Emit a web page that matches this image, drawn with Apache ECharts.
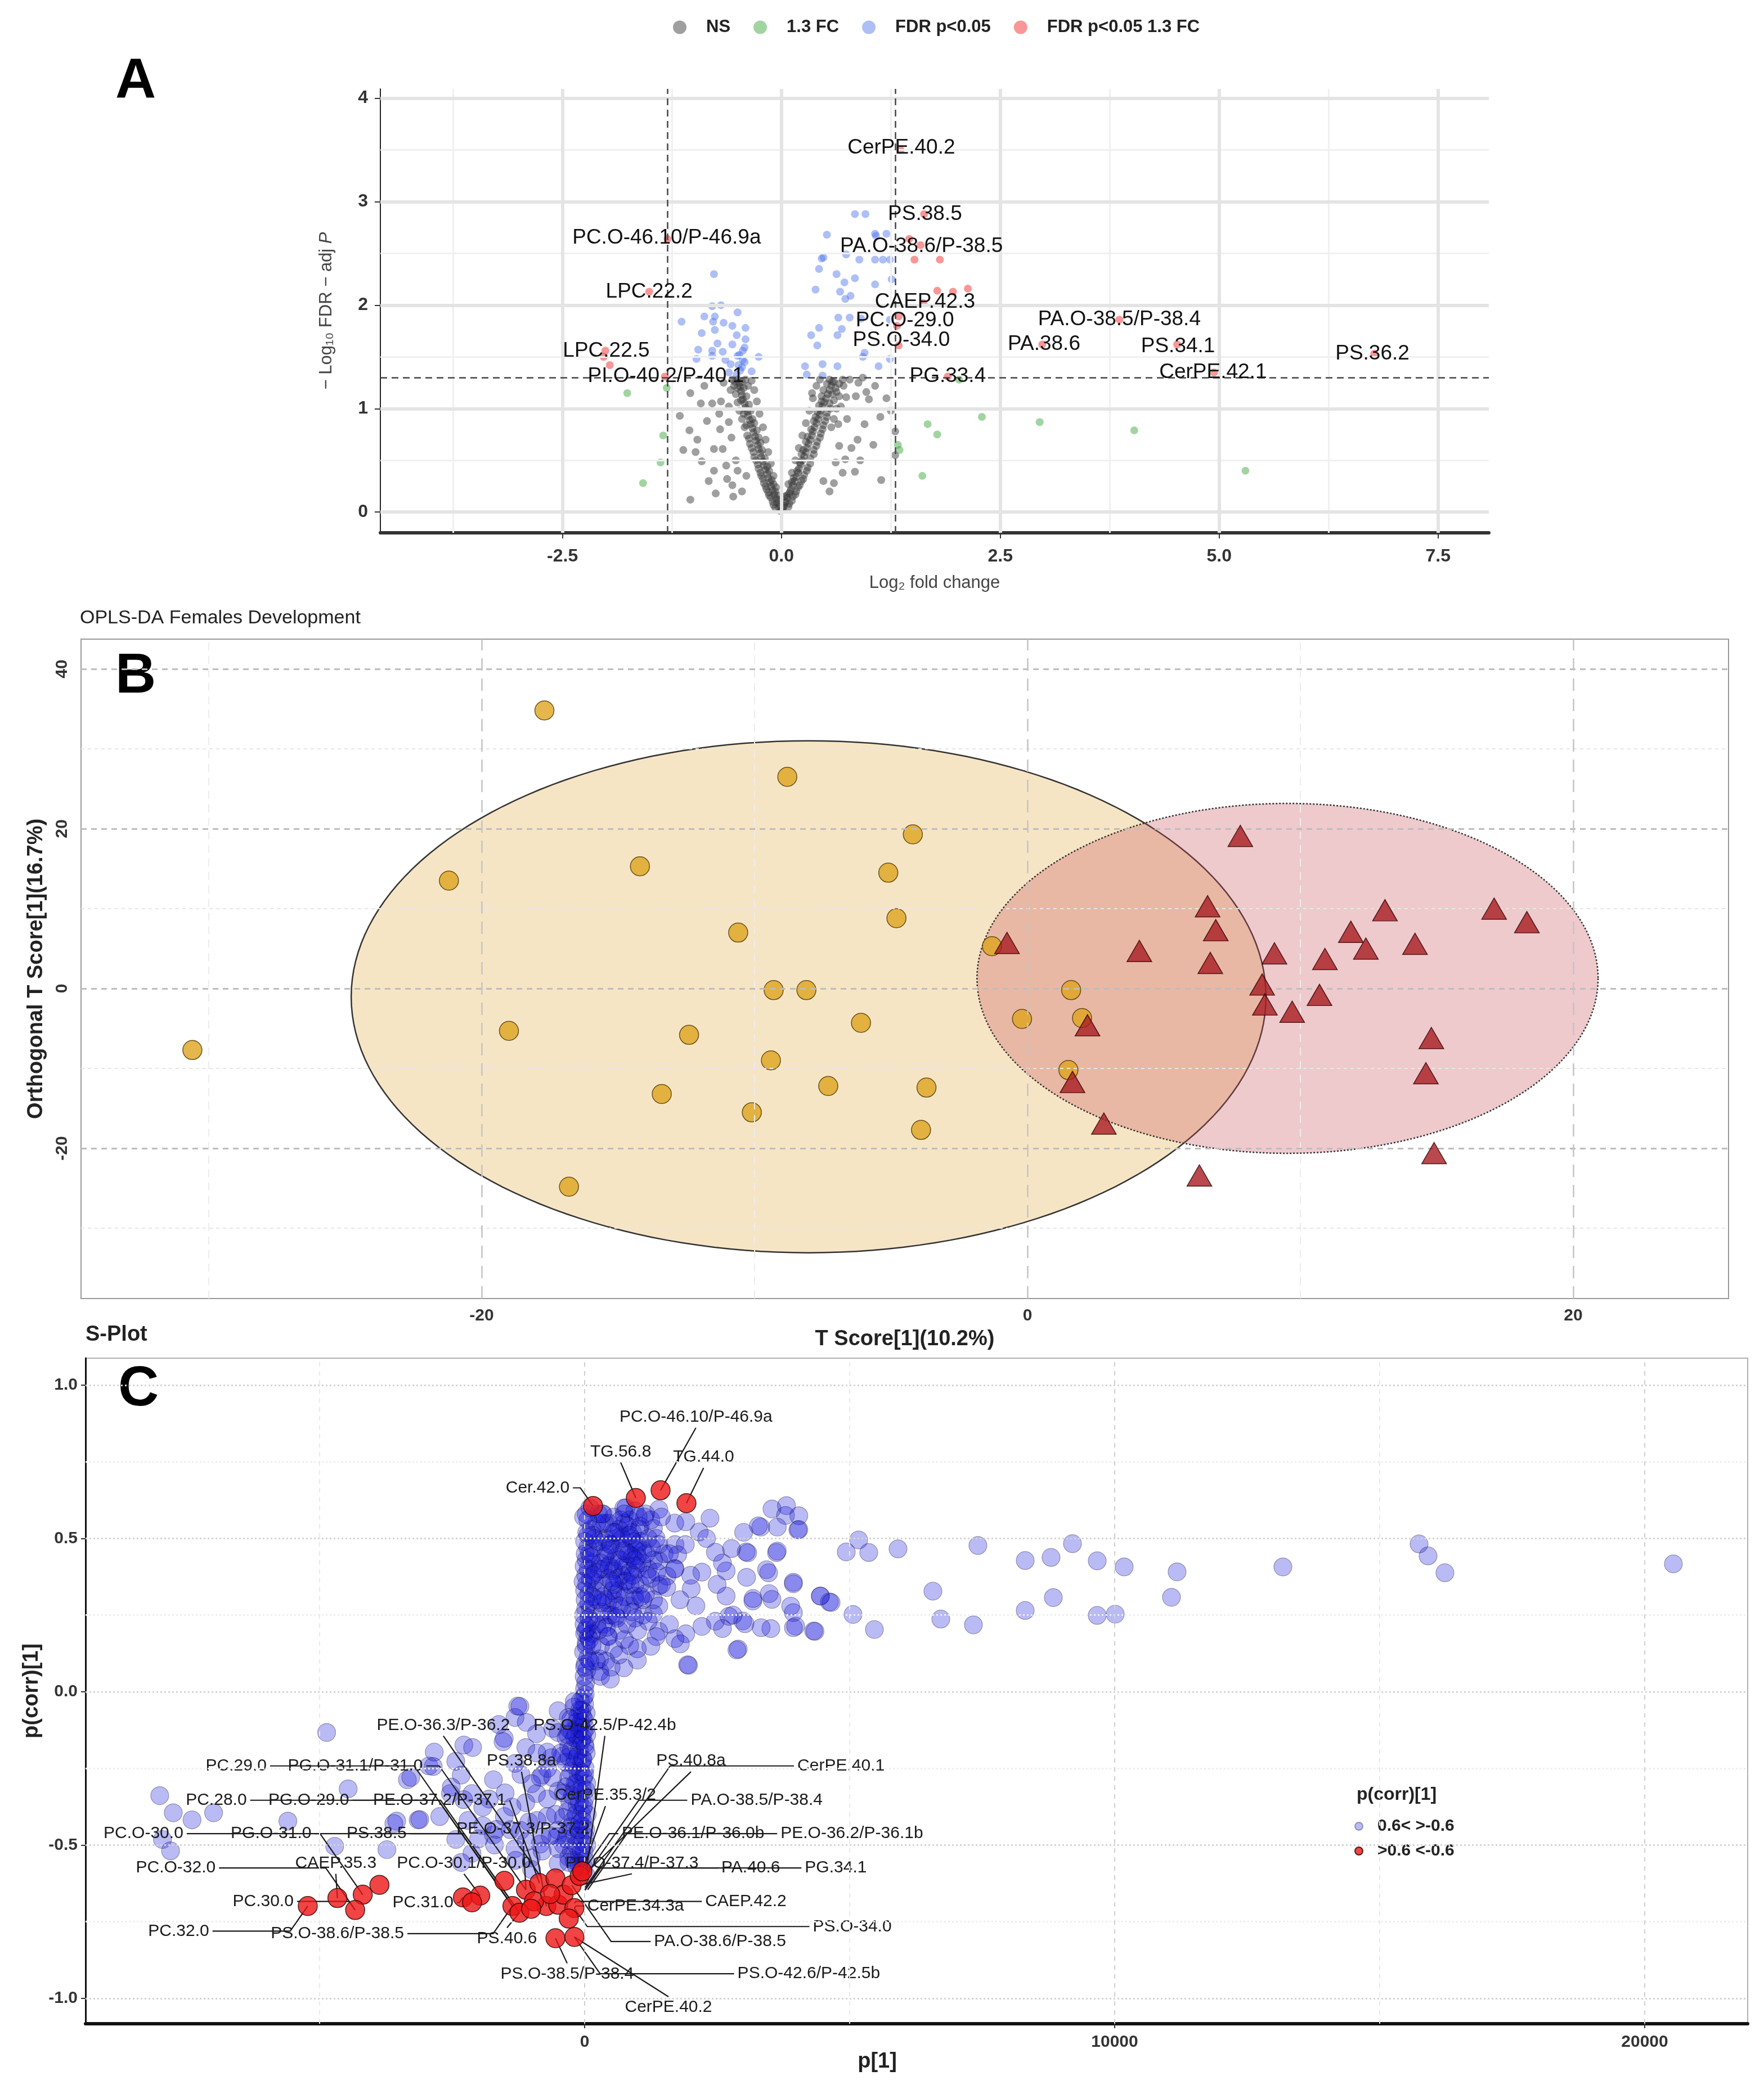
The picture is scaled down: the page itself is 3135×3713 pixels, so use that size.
<!DOCTYPE html>
<html>
<head>
<meta charset="utf-8">
<title>Volcano / OPLS-DA / S-Plot</title>
<script src="https://cdn.jsdelivr.net/npm/echarts@6/dist/echarts.min.js"></script>
<style>
  html, body { margin: 0; padding: 0; background: #fff; }
  #chart { width: 3135px; height: 3713px; }
</style>
</head>
<body>
<div id="chart"></div>
<script>
// ---------- panel A : volcano (log2 FC, -log10 FDR) ----------
const volcanoNS = [
  [-0.01,0.01],[0.01,0.02],[-0.03,0.05],[0.03,0.06],[-0.05,0.09],[0.05,0.1],[-0.06,0.13],[0.07,0.14],[-0.08,0.17],[0.09,0.18],
  [-0.1,0.21],[0.11,0.22],[-0.12,0.25],[0.13,0.26],[-0.13,0.29],[0.15,0.3],[-0.15,0.33],[0.17,0.34],[-0.16,0.37],[0.19,0.38],
  [-0.18,0.41],[0.2,0.42],[-0.2,0.45],[0.22,0.46],[-0.21,0.49],[0.24,0.5],[-0.23,0.53],[0.26,0.54],[-0.24,0.57],[0.28,0.58],
  [-0.26,0.61],[0.29,0.62],[-0.27,0.65],[0.31,0.66],[-0.29,0.69],[0.33,0.7],[-0.3,0.73],[0.35,0.74],[-0.32,0.77],[0.36,0.78],
  [-0.33,0.81],[0.38,0.82],[-0.35,0.85],[0.4,0.86],[-0.36,0.89],[0.42,0.9],[-0.38,0.93],[0.44,0.94],[-0.39,0.97],[0.45,0.98],
  [-0.41,1.01],[0.47,1.02],[-0.42,1.05],[0.49,1.06],[-0.44,1.09],[0.51,1.1],[-0.45,1.13],[0.53,1.14],[-0.46,1.17],[0.55,1.18],
  [-0.47,1.21],[0.57,1.22],[-0.48,1.25],[0.58,1.26],
  [-0.07,0.04],[0.08,0.05],[-0.1,0.1],[0.12,0.11],[-0.14,0.16],[0.16,0.17],[-0.17,0.22],[0.19,0.24],[-0.2,0.28],[0.23,0.3],
  [-0.23,0.35],[0.26,0.36],[-0.26,0.42],[0.3,0.43],[-0.29,0.5],[0.33,0.52],[-0.32,0.58],[0.37,0.6],[-0.36,0.66],[0.41,0.68],
  [-0.39,0.74],[0.45,0.76],[-0.42,0.82],[0.48,0.84],[-0.45,0.9],[0.52,0.92],[-0.48,0.98],[0.56,1.0],[-0.5,1.06],[0.6,1.08],
  [-0.52,1.14],[0.63,1.16],[-0.54,1.22],[0.66,1.24],
  [-0.03,0.12],[0.04,0.15],[-0.06,0.24],[0.08,0.27],[-0.09,0.35],[0.12,0.38],[-0.12,0.47],[0.16,0.5],[-0.15,0.58],[0.2,0.62],
  [-0.18,0.7],[0.24,0.74],[-0.21,0.82],[0.28,0.86],[-0.25,0.95],[0.32,0.98],[-0.28,1.07],[0.36,1.1],[-0.31,1.18],[0.4,1.22],
  [-0.34,1.27],[0.44,1.28],
  [-0.02,0.07],[-0.04,0.16],[-0.07,0.2],[-0.09,0.27],[-0.11,0.31],[-0.14,0.4],[-0.16,0.44],[-0.19,0.52],[-0.22,0.6],[-0.24,0.67],
  [-0.26,0.72],[-0.28,0.79],[-0.31,0.86],[-0.33,0.9],[-0.35,0.98],[-0.37,1.04],[-0.4,1.12],[-0.43,1.2],[-0.45,1.26],[-0.5,1.28],
  [-0.38,1.22],[-0.41,1.28],[-0.53,1.26],[-0.56,1.28],[-0.5,1.2],[-0.46,1.08],[-0.43,0.95],[-0.4,0.84],[-0.37,0.71],[-0.34,0.62],
  [-0.31,0.53],[-0.27,0.46],[-0.24,0.38],[-0.21,0.32],[-0.18,0.25],[-0.15,0.19],[-0.12,0.14],[-0.09,0.07],
  [0.02,0.04],[0.04,0.09],[0.06,0.16],[0.1,0.2],[0.12,0.29],[0.14,0.33],[0.18,0.4],[0.21,0.48],[0.23,0.56],[0.25,0.6],
  [0.28,0.68],[0.3,0.73],[0.34,0.8],[0.37,0.88],[0.39,0.92],[0.41,0.97],[0.43,1.03],[0.46,1.12],[0.48,1.18],[0.52,1.24],
  [0.55,1.28],[0.6,1.26],[0.62,1.2],[0.58,1.14],[0.55,1.05],[0.52,0.96],[0.5,0.88],[0.47,0.8],[0.44,0.72],[0.4,0.64],
  [0.37,0.56],[0.33,0.47],[0.29,0.4],[0.25,0.32],[0.21,0.26],[0.17,0.2],[0.13,0.15],[0.09,0.08],[0.7,1.28],[0.66,1.12],
  [0.63,1.0],[0.6,0.9],[0.57,0.82],
  [-1.04,1.15],[-1.16,0.93],[-1.05,0.79],[-0.96,0.7],[-0.91,0.49],[-0.77,0.4],[-1.04,0.12],[-0.75,0.18],[-0.56,0.26],[-0.67,0.61],
  [-0.79,1.05],[-0.69,1.07],[-0.92,1.05],[-0.6,0.87],[-0.77,0.61],[-0.63,0.45],[-0.7,0.8],[-0.85,0.88],[-0.58,1.18],[-0.66,1.25],
  [-0.88,1.22],[-0.62,0.32],[-0.52,0.5],[-0.57,0.72],[-0.83,0.3],[-0.71,0.95],[-0.55,0.15],[-0.45,0.2],[-0.4,0.35],[-0.5,0.4],
  [-0.98,0.58],[-1.12,0.6],[-0.6,1.02],
  [0.35,1.15],[0.46,1.07],[0.71,1.22],[0.74,1.11],[0.85,1.12],[0.93,1.3],[0.97,1.16],[1.07,1.22],[1.0,1.09],[1.25,0.98],
  [1.13,0.92],[0.66,0.64],[0.87,0.7],[0.84,0.39],[1.14,0.31],[0.73,0.51],[0.62,0.48],[1.3,0.78],[0.75,0.9],[0.8,0.62],
  [0.7,0.38],[0.9,0.5],[0.65,0.85],[0.6,0.28],[0.55,0.2],[0.48,0.3],[0.95,0.85],[1.05,0.65],[0.78,1.28],[0.88,1.25],
  [1.2,1.1],[0.68,1.02],[1.3,0.55]
];
const volcanoFC = [
  [-1.76,1.15],[-1.31,1.2],[-1.35,0.74],[-1.38,0.48],[-1.58,0.28],[1.35,0.6],[1.33,0.65],[1.67,0.85],
  [1.78,0.75],[1.61,0.35],[2.29,0.92],[2.95,0.87],[4.03,0.79],[5.3,0.4],[2.03,1.28]
];
const volcanoFDR = [
  [0.84,2.88],[0.96,2.88],[0.52,2.68],[1.07,2.69],[1.08,2.67],[1.2,2.69],[0.46,2.45],[0.48,2.46],[0.74,2.49],[0.89,2.44],
  [1.07,2.44],[1.16,2.44],[1.24,2.44],[0.43,2.35],[0.63,2.3],[0.84,2.26],[0.72,2.22],[1.26,2.25],[1.07,2.2],[0.39,2.15],
  [0.67,2.13],[0.79,2.09],[0.73,2.06],[0.65,1.88],[0.78,1.88],[0.91,1.87],[1.24,1.86],[0.43,1.78],[0.69,1.77],[0.34,1.71],
  [0.64,1.71],[0.41,1.61],[0.95,1.54],[0.93,1.5],[1.24,1.48],[0.27,1.41],[0.47,1.43],[0.64,1.41],[1.11,1.41],[0.29,1.33],
  [0.47,1.32],
  [-0.77,2.3],[-1.14,1.84],[-0.79,1.99],[-0.69,2.0],[-0.88,1.89],[-0.76,1.89],[-0.5,1.93],[-0.78,1.84],[-0.66,1.83],[-0.56,1.8],
  [-0.41,1.78],[-0.91,1.73],[-0.76,1.76],[-0.51,1.71],[-0.41,1.67],[-0.73,1.63],[-0.56,1.62],[-0.95,1.57],[-0.79,1.56],[-0.67,1.55],
  [-0.42,1.59],[-0.26,1.5],[-0.79,1.51],[-0.5,1.51],[-0.97,1.48],[-0.64,1.47],[-0.44,1.47],[-0.58,1.43],[-0.49,1.42],[-0.47,1.37],
  [-0.6,1.35],[-0.34,1.36],[-0.51,1.33],[-0.45,1.4],[-0.42,1.45],[-0.48,1.52],[-0.44,1.56]
];
const volcanoBoth = [
  [1.36,3.5],[1.63,2.88],[1.46,2.64],[1.59,2.58],[1.52,2.44],[1.81,2.44],[1.78,2.14],[1.96,2.13],[2.13,2.16],[1.62,2.02],
  [1.34,1.89],[1.32,1.8],[1.34,1.61],[3.86,1.86],[2.98,1.62],[1.9,1.31],[4.52,1.62],[4.94,1.35],[6.77,1.53],
  [-1.3,2.64],[-1.51,2.13],[-2.01,1.56],[-2.03,1.5],[-1.96,1.42],[-1.33,1.31]
];
const volcanoLabels = [
  ['CerPE.40.2', 1.37, 3.52], ['PS.38.5', 1.64, 2.88], ['PC.O-46.10/P-46.9a', -1.31, 2.65],
  ['PA.O-38.6/P-38.5', 1.6, 2.57], ['LPC.22.2', -1.51, 2.13], ['CAEP.42.3', 1.64, 2.03],
  ['PC.O-29.0', 1.41, 1.85], ['PA.O-38.5/P-38.4', 3.86, 1.86], ['PS.O-34.0', 1.37, 1.66],
  ['PA.38.6', 3.0, 1.62], ['PS.34.1', 4.53, 1.6], ['LPC.22.5', -2.0, 1.56], ['PS.36.2', 6.75, 1.53],
  ['CerPE.42.1', 4.93, 1.35], ['PI.O-40.2/P-40.1', -1.32, 1.31], ['PG.33.4', 1.9, 1.31]
];
const volcanoXTicks = [-2.5, 0, 2.5, 5, 7.5];
const volcanoXMinor = [-3.75, -1.25, 1.25, 3.75, 6.25];
const volcanoYTicks = [0, 1, 2, 3, 4];
const volcanoYMinor = [0.5, 1.5, 2.5, 3.5];
const fcCut = [-1.3, 1.3];
const pCut = [1.3];

// ---------- panel B : OPLS-DA scores ----------
const scoresDev = [
  [-30.6,-7.7],[-17.7,34.8],[-21.2,13.5],[-19.0,-5.3],[-16.8,-24.8],[-14.2,15.3],[-8.8,26.5],[-10.6,7.0],[-9.3,-0.2],[-8.1,-0.2],
  [-12.4,-5.8],[-13.4,-13.2],[-9.4,-9.0],[-10.1,-15.5],[-7.3,-12.2],[-6.1,-4.3],[-4.2,19.3],[-5.1,14.5],[-4.8,8.8],[-3.7,-12.4],
  [-3.9,-17.7],[-1.3,5.3],[1.6,-0.2],[-0.2,-3.8],[2.0,-3.7],[1.5,-10.2]
];
const scoresCtrl = [
  [-0.75,5.7],[7.8,19.1],[6.6,10.3],[6.9,7.3],[6.7,3.2],[4.1,4.7],[9.05,4.4],[8.6,0.5],[8.7,-2.0],[9.7,-2.9],
  [10.7,-0.8],[10.9,3.7],[11.85,7.1],[12.4,5.0],[13.1,9.8],[14.2,5.6],[17.1,10.0],[18.3,8.3],[14.8,-6.2],[14.6,-10.6],
  [14.9,-20.6],[6.3,-23.4],[2.2,-4.6],[1.65,-11.7],[2.8,-16.9]
];
// [centre x, centre y, semi-axis x, semi-axis y]
const ellipseDev = [-8.02, -1.03, 16.76, 32.04];
const ellipseCtrl = [9.53, 1.27, 11.38, 21.9];
const scoreXTicks = [-20, 0, 20];
const scoreXMinor = [-30, -10, 10];
const scoreYTicks = [-20, 0, 20, 40];
const scoreYMinor = [-30, -10, 10, 30];

// ---------- panel C : S-plot (p[1], p(corr)[1]) ----------
const pcorrBlue = [
  // right of zero
  [20541,0.417],[13174,0.407],[15743,0.482],[15913,0.443],[16231,0.388],[11178,0.391],[11072,0.308],[9204,0.483],[9671,0.427],
  [10180,0.407],[8800,0.438],[8312,0.428],[7420,0.477],[5913,0.466],[5170,0.495],[5361,0.454],[4936,0.456],[8843,0.307],
  [9671,0.249],[10011,0.253],[8312,0.265],[7335,0.218],[6720,0.237],[6571,0.328],[5467,0.203],[5064,0.252],[4618,0.293],
  [4448,0.312],[4321,0.198],[3981,0.214],[3938,0.258],[3535,0.596],[3790,0.575],[4023,0.528],[3323,0.537],[3620,0.454],
  [3047,0.456],[2898,0.139],[1943,0.088],[3938,0.352],[3471,0.388],[3535,0.301],[3174,0.296],[2983,0.231],[2601,0.206],
  [3514,0.206],[3808,0.607],[4041,0.574],[3279,0.541],[3635,0.537],[4041,0.529],[2365,0.566],[2162,0.521],[2772,0.467],
  [3076,0.453],[3635,0.459],[2467,0.455],[1756,0.447],[1705,0.402],[2213,0.39],[2670,0.394],[3056,0.373],[3432,0.398],
  [3939,0.357],[1553,0.377],[2011,0.336],[2670,0.312],[3178,0.304],[3483,0.32],[3888,0.279],[4447,0.312],[4650,0.291],
  [3026,0.222],[3330,0.209],[3939,0.209],[4346,0.197],[2467,0.23],[2721,0.246],[2213,0.213],[1909,0.189],[1705,0.173],
  [1807,0.156],[2873,0.136],[1960,0.086],[1249,0.148],[995,0.103],[740,0.078],[486,0.041],[995,0.14],[1400,0.197],
  [1298,0.254],[944,0.312],[1400,0.345],[1400,0.427],[1705,0.48],[1298,0.533],[1909,0.554],[1400,0.595],[740,0.599],
  [385,0.549],[690,0.508],[995,0.443],[537,0.394],[791,0.361],[588,0.246],[435,0.181],[283,0.107],[283,0.066],
  [300,0.15],[350,0.35],[400,0.5],[320,0.55],[450,0.25],[500,0.42],[550,0.3],[600,0.5],[650,0.2],[700,0.38],[750,0.55],
  [800,0.45],[850,0.28],[900,0.52],[950,0.35],[1000,0.48],[1100,0.25],[1150,0.58],[1200,0.4],[1300,0.3],[1350,0.5],
  [1450,0.35],[1500,0.45],[1600,0.22],[1700,0.55],[1800,0.3],[1900,0.48],[2000,0.38],[2100,0.28],[2300,0.5],[2500,0.35],
  [2600,0.42],[2800,0.25],[3000,0.52],
  [350,0.58],[450,0.55],[550,0.57],[650,0.53],[750,0.58],[850,0.56],[950,0.59],[1050,0.54],[1250,0.56],[1450,0.57],
  [400,0.45],[500,0.48],[600,0.44],[700,0.47],[800,0.41],[900,0.44],[1000,0.4],[1100,0.46],[1200,0.5],[1300,0.43],
  [1400,0.48],[1600,0.45],[350,0.4],[450,0.37],[550,0.4],[650,0.33],[750,0.36],[850,0.39],[950,0.3],[1050,0.35],
  [1150,0.32],[1250,0.37],[1400,0.28],[1550,0.34],[1700,0.4],[400,0.3],[500,0.25],[600,0.32],[700,0.27],[800,0.22],
  [900,0.26],[1000,0.2],[1100,0.3],[1200,0.23],[1350,0.18],[350,0.22],[450,0.18],[550,0.14],[650,0.12],[750,0.17],
  [850,0.15],[950,0.24],[400,0.1],[500,0.08],[300,0.05],
  [30,0.16],[130,0.19],[230,0.22],[330,0.26],[430,0.29],[530,0.33],[630,0.37],[730,0.41],[830,0.45],[930,0.49],
  [1030,0.53],[1130,0.57],[80,0.32],[180,0.36],[280,0.4],[380,0.44],[480,0.48],[580,0.52],[680,0.56],[780,0.6],
  [880,0.5],[980,0.46],[1080,0.42],[1180,0.38],[60,0.47],[160,0.51],[260,0.58],[360,0.49],[460,0.41],[560,0.35],
  [660,0.43],[760,0.31],[860,0.35],[960,0.41],[1060,0.31],[1160,0.45],[110,0.27],[210,0.33],[310,0.29],[410,0.21],
  [510,0.36],[610,0.24],[710,0.5],[810,0.54],[910,0.38],[1010,0.57],[1260,0.47],[1360,0.39],[20,0.38],[70,0.18],
  [150,0.42],[250,0.49],[350,0.31],[450,0.46],[550,0.52],[650,0.28],[750,0.46],[850,0.51],[950,0.43],[1050,0.49],
  // stem, upper half
  [0,0.01],[20,0.03],[-10,0.05],[40,0.07],[10,0.09],[60,0.11],[-20,0.13],[30,0.15],[90,0.17],[0,0.19],
  [50,0.21],[120,0.23],[-20,0.25],[20,0.27],[80,0.29],[150,0.31],[0,0.33],[40,0.35],[110,0.37],[200,0.39],
  [-10,0.41],[30,0.43],[90,0.45],[170,0.47],[0,0.49],[60,0.51],[130,0.53],[230,0.55],[-20,0.57],[30,0.58],
  [100,0.6],[10,0.45],[20,0.2],[70,0.4],[140,0.15],[240,0.3],[180,0.5],[300,0.42],[260,0.2],[330,0.58],[220,0.1],
  [10,0.3],[60,0.56],[-30,0.36],[120,0.44],[40,0.52],[0,0.08],[80,0.24],[160,0.38],[100,0.1],[-10,0.22],
  // stem, lower half
  [30,-0.6],[-60,-0.58],[-150,-0.57],[10,-0.55],[-100,-0.53],[-250,-0.52],[40,-0.5],[-50,-0.49],[-180,-0.47],[-320,-0.46],
  [20,-0.45],[-90,-0.43],[-220,-0.42],[-400,-0.41],[50,-0.4],[-30,-0.38],[-140,-0.37],[-280,-0.36],[0,-0.35],[-70,-0.33],
  [-200,-0.32],[-350,-0.31],[40,-0.3],[-20,-0.28],[-120,-0.27],[-260,-0.26],[10,-0.25],[-60,-0.23],[-180,-0.22],[-420,-0.21],
  [30,-0.2],[-100,-0.19],[-300,-0.18],[0,-0.17],[-40,-0.15],[-160,-0.14],[-240,-0.13],[20,-0.12],[-80,-0.11],[-10,-0.09],
  [-130,-0.08],[30,-0.07],[-50,-0.06],[-200,-0.05],[0,-0.04],[-20,-0.02],[10,-0.01],[-80,-0.03],[-120,-0.16],[-30,-0.44],
  [-200,-0.55],[-400,-0.5],[-10,-0.52],[-60,-0.4],[20,-0.32],[-40,-0.22],[40,-0.14],[-90,-0.47],[-150,-0.3],[-70,-0.1],
  [-20,-0.57],[-110,-0.56],[-300,-0.54],[-60,-0.52],[-160,-0.5],[-350,-0.48],[0,-0.47],[-120,-0.45],[-260,-0.44],[-40,-0.42],
  [-160,-0.4],[-320,-0.39],[-10,-0.37],[-100,-0.36],[-230,-0.34],[-400,-0.33],[-50,-0.31],[-180,-0.3],[-300,-0.28],[0,-0.27],
  [-80,-0.26],[-200,-0.24],[-350,-0.23],[-30,-0.22],[-130,-0.21],[-250,-0.19],[10,-0.18],[-60,-0.16],[-190,-0.15],[-320,-0.14],
  [-20,-0.13],[-100,-0.12],[-150,-0.1],[-260,-0.09],[-40,-0.08],[-90,-0.06],
  // left of zero
  [-4867,-0.133],[-8016,-0.339],[-7761,-0.395],[-7407,-0.418],[-7000,-0.395],[-7965,-0.482],[-7812,-0.519],[-5599,-0.422],
  [-4715,-0.504],[-3730,-0.515],[-4461,-0.317],[-3546,-0.422],[-3141,-0.418],[-3344,-0.287],[-2937,-0.242],[-2430,-0.227],
  [-2837,-0.197],[-2278,-0.174],[-2125,-0.332],[-1922,-0.377],[-1516,-0.407],[-1720,-0.467],[-2125,-0.527],[-2328,-0.557],
  [-1313,-0.512],[-1008,-0.542],[-1313,-0.084],[-1262,-0.047],[-907,-0.137],[-1109,-0.182],[-1313,-0.234],[-1720,-0.287],
  [-704,-0.197],[-805,-0.272],[-500,-0.324],[-907,-0.332],[-1109,-0.362],[-704,-0.407],[-500,-0.452],[-805,-0.474],
  [-500,-0.512],[-297,-0.557],[-297,-0.212],[-297,-0.122],[-500,-0.062],[-195,-0.032],[-1516,-0.152],[-1618,-0.107],
  [-2328,-0.272],[-2532,-0.332],[-1922,-0.437],[-1211,-0.452],[-2734,-0.407],[-2430,-0.482],[-2516,-0.311],[-2282,-0.352],
  [-1369,-0.376],[-839,-0.279],[-626,-0.215],[-499,-0.133],[-308,-0.084],[-520,-0.473],[-839,-0.497],[-1051,-0.425],
  [-1667,-0.449],[-3280,-0.279],[-3599,-0.43],[-3110,-0.417],[-2856,-0.244],[-2113,-0.182],[-1539,-0.163],[-1221,-0.048],
  [-350,-0.15],[-450,-0.2],[-600,-0.28],[-700,-0.35],[-550,-0.4],[-900,-0.42],[-650,-0.47],[-1100,-0.49],
  [-800,-0.52],[-1300,-0.55],[-500,-0.56],[-1000,-0.58],[-700,-0.25],[-1000,-0.3],[-1200,-0.27],[-1500,-0.33],[-1800,-0.35],
  [-1400,-0.45],[-1700,-0.5],[-2000,-0.48],[-2200,-0.42],[-900,-0.2],[-600,-0.12],[-1100,-0.1]
];
const pcorrRed = [
  [159,0.606],[966,0.632],[1433,0.657],[1921,0.615],
  [-5223,-0.699],[-4664,-0.673],[-4186,-0.662],[-4329,-0.712],[-3871,-0.63],[-2296,-0.671],[-1970,-0.665],[-2124,-0.687],
  [-1514,-0.617],[-1362,-0.699],[-1230,-0.721],[-1107,-0.646],[-854,-0.624],[-722,-0.699],[-550,-0.609],[-498,-0.695],
  [-397,-0.662],[-244,-0.631],[-193,-0.706],[-93,-0.601],[-43,-0.586],[-550,-0.804],[-193,-0.8],[-955,-0.684],
  [-1008,-0.708],[-300,-0.74],[-650,-0.66]
];
// [text, label x, label y, side, point x, point y]
const pcorrLabels = [
  ['PC.O-46.10/P-46.9a', 2100, 0.861, 't', 1433, 0.657], ['TG.56.8', 681, 0.748, 't', 966, 0.632],
  ['TG.44.0', 2245, 0.73, 't', 1921, 0.615], ['Cer.42.0', -221, 0.665, 'r', 159, 0.606],
  ['PE.O-36.3/P-36.2', -2665, -0.144, 't', -807, -0.609], ['PS.O-42.5/P-42.4b', 382, -0.144, 't', 7, -0.617],
  ['PC.29.0', -5934, -0.242, 'r', -1364, -0.699], ['PG.O-31.1/P-31.0', -2988, -0.242, 'r', -1107, -0.646],
  ['PS.38.8a', -1191, -0.261, 't', -722, -0.699], ['PS.40.8a', 2006, -0.261, 't', 58, -0.586],
  ['CerPE.40.1', 3950, -0.242, 'l', 7, -0.639], ['PC.28.0', -6310, -0.354, 'r', -1230, -0.721],
  ['PG.O-29.0', -4380, -0.354, 'r', -1362, -0.699], ['PE.O-37.2/P-37.1', -1414, -0.354, 'r', -854, -0.624],
  ['CerPE.35.3/2', 393, -0.373, 't', -43, -0.586], ['PA.O-38.5/P-38.4', 1937, -0.354, 'l', 7, -0.604],
  ['PC.O-30.0', -7507, -0.463, 'r', -1362, -0.699], ['PG.O-31.0', -5090, -0.463, 'r', -4186, -0.662],
  ['PS.38.5', -3293, -0.463, 'r', -1230, -0.721], ['PE.O-37.3/P-37.2', -1160, -0.482, 't', -1107, -0.646],
  ['PE.O-36.1/P-36.0b', 637, -0.463, 'l', -93, -0.601], ['PE.O-36.2/P-36.1b', 3633, -0.463, 'l', 58, -0.646],
  ['PC.O-32.0', -6898, -0.575, 'r', -4329, -0.712], ['CAEP.35.3', -4694, -0.594, 't', -4664, -0.673],
  ['PC.O-30.1/P-30.0', -2277, -0.594, 't', -1970, -0.665], ['PE.O-37.4/P-37.3', 893, -0.594, 't', -80, -0.63],
  ['PA.40.6', 2516, -0.575, 'l', 7, -0.646], ['PG.34.1', 4091, -0.575, 'l', 7, -0.648],
  ['PC.30.0', -5426, -0.684, 'r', -4329, -0.712], ['PC.31.0', -2410, -0.688, 'r', -2296, -0.671],
  ['CerPE.34.3a', -13, -0.699, 'l', -193, -0.706], ['CAEP.42.2', 2211, -0.684, 'l', -193, -0.69],
  ['PC.32.0', -7020, -0.781, 'r', -5223, -0.699], ['PS.O-38.6/P-38.5', -3344, -0.789, 'r', -1362, -0.699],
  ['PS.40.6', -1465, -0.77, 'b', -1230, -0.721], ['PS.O-34.0', 4242, -0.766, 'l', -193, -0.706],
  ['PA.O-38.6/P-38.5', 1246, -0.815, 'l', -244, -0.631], ['PS.O-38.5/P-38.4', -329, -0.886, 'b', -550, -0.804],
  ['PS.O-42.6/P-42.5b', 2820, -0.92, 'l', -193, -0.8], ['CerPE.40.2', 1582, -0.995, 'b', -193, -0.8]
];
const pXTicks = [0, 10000, 20000];
const pXMinor = [-5000, 5000, 15000];
const pcorrYTicks = [-1, -0.5, 0, 0.5, 1];
const pcorrYMinor = [-0.75, -0.25, 0.25, 0.75];

const FONT = '"Liberation Sans", Arial, sans-serif';

function lines(axis, values, style) {
  return values.map(v => ({ [axis]: v, lineStyle: style }));
}

function guideSeries(gi, z, data) {
  return {
    type: 'scatter', xAxisIndex: gi, yAxisIndex: gi, data: [], z: z, silent: true,
    markLine: { silent: true, symbol: ['none', 'none'], label: { show: false }, animation: false, data: data }
  };
}

function ellipseSeries(e, fill, stroke, dash) {
  return {
    type: 'custom', xAxisIndex: 1, yAxisIndex: 1, z: 2, silent: true,
    data: [e],
    renderItem(params, api) {
      const c = api.coord([api.value(0), api.value(1)]);
      const edge = api.coord([api.value(0) + api.value(2), api.value(1) + api.value(3)]);
      const rx = edge[0] - c[0], ry = c[1] - edge[1];
      const pts = [];
      for (let i = 0; i < 180; i++) {
        const t = i / 180 * Math.PI * 2;
        pts.push([c[0] + rx * Math.cos(t), c[1] + ry * Math.sin(t)]);
      }
      return { type: 'polygon', shape: { points: pts },
        style: { fill: fill, stroke: stroke, lineWidth: 2.5, lineDash: dash } };
    }
  };
}

function axisText(size, bold) {
  return { fontSize: size, fontWeight: bold ? 'bold' : 'normal', color: '#333', fontFamily: FONT };
}

const chart = echarts.init(document.getElementById('chart'));

const option = {
  backgroundColor: '#fff',
  animation: false,
  textStyle: { fontFamily: FONT },
  grid: [
    { left: 676, top: 158, width: 1970, height: 789 },
    { left: 144, top: 1136, width: 2928, height: 1172, show: true, borderColor: '#9a9a9a', borderWidth: 2 },
    { left: 152, top: 2414, width: 2954, height: 1183, show: true, borderColor: '#b0b0b0', borderWidth: 2 }
  ],
  xAxis: [
    {
      gridIndex: 0, type: 'value', min: -4.58, max: 8.08,
      splitLine: { show: false },
      axisLine: { onZero: false, lineStyle: { color: '#333', width: 6 } },
      axisTick: { customValues: volcanoXTicks, length: 10, lineStyle: { color: '#333', width: 2 } },
      axisLabel: Object.assign({ customValues: volcanoXTicks, margin: 26, formatter: v => v.toFixed(1) }, axisText(32, true)),
      name: 'Log₂ fold change', nameLocation: 'middle', nameGap: 74,
      nameTextStyle: { fontSize: 31, color: '#444', fontFamily: FONT }
    },
    {
      gridIndex: 1, type: 'value', min: -34.68, max: 25.69,
      splitLine: { show: false }, axisLine: { show: false, onZero: false }, axisTick: { show: false },
      axisLabel: Object.assign({ customValues: scoreXTicks, margin: 16 }, axisText(30, true)),
      name: 'T Score[1](10.2%)', nameLocation: 'middle', nameGap: 54,
      nameTextStyle: { fontSize: 38, fontWeight: 'bold', color: '#222', fontFamily: FONT }
    },
    {
      gridIndex: 2, type: 'value', min: -9416, max: 21943,
      splitLine: { show: false },
      axisLine: { onZero: false, lineStyle: { color: '#111', width: 6 } },
      axisTick: { customValues: pXTicks, length: 8, lineStyle: { color: '#333', width: 2 } },
      axisLabel: Object.assign({ customValues: pXTicks, margin: 18, formatter: v => String(v) }, axisText(30, true)),
      name: 'p[1]', nameLocation: 'middle', nameGap: 46,
      nameTextStyle: { fontSize: 38, fontWeight: 'bold', color: '#222', fontFamily: FONT, padding: [0, 140, 0, 0] }
    }
  ],
  yAxis: [
    {
      gridIndex: 0, type: 'value', min: -0.2, max: 4.09,
      splitLine: { show: false },
      axisLine: { show: true, onZero: false, lineStyle: { color: '#222', width: 2 } },
      axisTick: { show: true, customValues: volcanoYTicks, length: 10, lineStyle: { color: '#333', width: 2 } },
      axisLabel: Object.assign({ customValues: volcanoYTicks, margin: 22 }, axisText(32, true)),
      name: '− Log₁₀ FDR − adj {i|P}', nameLocation: 'middle', nameGap: 80,
      nameTextStyle: { fontSize: 31, color: '#444', fontFamily: FONT,
        rich: { i: { fontSize: 31, fontStyle: 'italic', color: '#444', fontFamily: FONT } } }
    },
    {
      gridIndex: 1, type: 'value', min: -38.8, max: 43.73,
      splitLine: { show: false }, axisLine: { show: false, onZero: false }, axisTick: { show: false },
      axisLabel: Object.assign({ customValues: scoreYTicks, rotate: 90, margin: 18 }, axisText(30, true)),
      name: 'Orthogonal T Score[1](16.7%)', nameLocation: 'middle', nameGap: 60,
      nameTextStyle: { fontSize: 38, fontWeight: 'bold', color: '#222', fontFamily: FONT }
    },
    {
      gridIndex: 2, type: 'value', min: -1.083, max: 1.088,
      splitLine: { show: false },
      axisLine: { show: true, onZero: false, lineStyle: { color: '#111', width: 3 } },
      axisTick: { show: true, customValues: pcorrYTicks, length: 8, lineStyle: { color: '#333', width: 2 } },
      axisLabel: Object.assign({ customValues: pcorrYTicks, margin: 14, formatter: v => v.toFixed(1) }, axisText(30, true)),
      name: 'p(corr)[1]', nameLocation: 'middle', nameGap: 74,
      nameTextStyle: { fontSize: 38, fontWeight: 'bold', color: '#222', fontFamily: FONT }
    }
  ],
  legend: [
    {
      data: ['NS', '1.3 FC', 'FDR p<0.05', 'FDR p<0.05 1.3 FC'],
      left: 1191, top: 28, icon: 'circle', itemWidth: 84, itemHeight: 24, itemGap: 41,
      textStyle: { fontSize: 31, fontWeight: 'bold', color: '#222', fontFamily: FONT }
    },
    {
      data: ['0.6< >-0.6', '>0.6 <-0.6'],
      orient: 'vertical', left: 2402, top: 3226, icon: 'circle', itemWidth: 56, itemHeight: 14, itemGap: 14,
      textStyle: { fontSize: 30, fontWeight: 'bold', color: '#222', fontFamily: FONT }
    }
  ],
  graphic: [
    { type: 'text', x: 241, y: 146, style: { text: 'A', align: 'center', verticalAlign: 'middle', font: 'bold 100px ' + FONT, fill: '#000' } },
    { type: 'text', x: 241, y: 1203, style: { text: 'B', align: 'center', verticalAlign: 'middle', font: 'bold 100px ' + FONT, fill: '#000' } },
    { type: 'text', x: 246, y: 2470, style: { text: 'C', align: 'center', verticalAlign: 'middle', font: 'bold 100px ' + FONT, fill: '#000' } },
    { type: 'text', x: 142, y: 1099, style: { text: 'OPLS-DA Females Development', verticalAlign: 'middle', font: '34px ' + FONT, fill: '#222' } },
    { type: 'text', x: 152, y: 2373, style: { text: 'S-Plot', verticalAlign: 'middle', font: 'bold 38px ' + FONT, fill: '#222' } },
    { type: 'text', x: 2411, y: 3190, style: { text: 'p(corr)[1]', verticalAlign: 'middle', font: 'bold 32px ' + FONT, fill: '#222' } }
  ],
  series: [
    // ---- A : grid ----
    guideSeries(0, 1, [].concat(
      lines('yAxis', volcanoYMinor, { color: '#f0f0f0', width: 3, type: 'solid' }),
      lines('xAxis', volcanoXMinor, { color: '#f0f0f0', width: 3, type: 'solid' }),
      lines('yAxis', volcanoYTicks, { color: '#e4e4e4', width: 6, type: 'solid' }),
      lines('xAxis', volcanoXTicks, { color: '#e4e4e4', width: 6, type: 'solid' })
    )),
    {
      name: 'NS', type: 'scatter', xAxisIndex: 0, yAxisIndex: 0, z: 3, symbolSize: 14,
      itemStyle: { color: 'rgba(55,55,55,0.6)' }, data: volcanoNS
    },
    {
      name: '1.3 FC', type: 'scatter', xAxisIndex: 0, yAxisIndex: 0, z: 3, symbolSize: 14,
      itemStyle: { color: 'rgba(60,165,60,0.6)' }, data: volcanoFC
    },
    {
      name: 'FDR p<0.05', type: 'scatter', xAxisIndex: 0, yAxisIndex: 0, z: 3, symbolSize: 14,
      itemStyle: { color: 'rgba(70,110,235,0.55)' }, data: volcanoFDR
    },
    {
      name: 'FDR p<0.05 1.3 FC', type: 'scatter', xAxisIndex: 0, yAxisIndex: 0, z: 4, symbolSize: 14,
      itemStyle: { color: 'rgba(240,70,70,0.7)' }, data: volcanoBoth
    },
    guideSeries(0, 5, [].concat(
      lines('xAxis', fcCut, { color: '#444', width: 2.5, type: [12, 8] }),
      lines('yAxis', pCut, { color: '#444', width: 2.5, type: [12, 8] })
    )),
    {
      type: 'custom', xAxisIndex: 0, yAxisIndex: 0, z: 6, silent: true,
      data: volcanoLabels.map(l => [l[1], l[2]]),
      renderItem(params, api) {
        const c = api.coord([api.value(0), api.value(1)]);
        return { type: 'text', x: c[0], y: c[1],
          style: { text: volcanoLabels[params.dataIndex][0], align: 'center', verticalAlign: 'middle',
            font: '37px ' + FONT, fill: '#111' } };
      }
    },

    // ---- B : grid, ellipses, scores ----
    guideSeries(1, 1, [].concat(
      lines('yAxis', scoreYMinor, { color: '#e6e6e6', width: 2, type: [6, 6] }),
      lines('xAxis', scoreXMinor, { color: '#ececec', width: 2, type: [14, 10] }),
      lines('yAxis', scoreYTicks, { color: '#bdbdbd', width: 3, type: [10, 8] }),
      lines('xAxis', scoreXTicks, { color: '#c4c4c4', width: 2.5, type: [22, 14] })
    )),
    ellipseSeries(ellipseDev, 'rgba(232,190,110,0.4)', '#333', null),
    ellipseSeries(ellipseCtrl, 'rgba(200,80,90,0.3)', '#333', [3, 3]),
    {
      name: 'Development', type: 'scatter', xAxisIndex: 1, yAxisIndex: 1, z: 4, symbol: 'circle', symbolSize: 34,
      itemStyle: { color: '#DFA41E', borderColor: '#4a3500', borderWidth: 1.5 }, data: scoresDev
    },
    {
      name: 'Control', type: 'scatter', xAxisIndex: 1, yAxisIndex: 1, z: 5, symbol: 'triangle', symbolSize: [44, 38],
      itemStyle: { color: '#A81C22', borderColor: '#300000', borderWidth: 1.5 }, data: scoresCtrl
    },

    // ---- C : grid, points, labels ----
    guideSeries(2, 1, [].concat(
      lines('yAxis', pcorrYMinor, { color: '#eeeeee', width: 3, type: [3, 4] }),
      lines('xAxis', pXMinor, { color: '#eaeaea', width: 2, type: [8, 8] }),
      lines('yAxis', pcorrYTicks, { color: '#d4d4d4', width: 3, type: [3, 4] }),
      lines('xAxis', pXTicks, { color: '#cfcfcf', width: 2, type: [8, 8] })
    )),
    {
      name: '0.6< >-0.6', type: 'scatter', xAxisIndex: 2, yAxisIndex: 2, z: 3, symbolSize: 32,
      itemStyle: { color: 'rgba(20,20,220,0.37)', borderColor: 'rgba(0,0,40,0.42)', borderWidth: 1.2 }, data: pcorrBlue
    },
    {
      type: 'custom', xAxisIndex: 2, yAxisIndex: 2, z: 4, silent: true,
      data: pcorrLabels.map(l => [l[4], l[5], l[1], l[2]]),
      renderItem(params, api) {
        const lab = pcorrLabels[params.dataIndex];
        const p = api.coord([lab[4], lab[5]]);
        const a = api.coord([lab[1], lab[2]]);
        const side = lab[3];
        let tx = a[0], ty = a[1], align = 'center', vAlign = 'middle', pts;
        if (side === 'r' || side === 'l') {
          const dir = side === 'r' ? 1 : -1;
          tx = a[0] - dir * 6;
          align = side === 'r' ? 'right' : 'left';
          let ex = p[0] - dir * Math.abs(p[1] - a[1]) * 0.7;
          if ((ex - a[0]) * dir < 0) ex = a[0];
          pts = [a, [ex, a[1]], p];
        } else if (side === 't') {
          vAlign = 'bottom'; ty = a[1] - 4; pts = [a, p];
        } else {
          vAlign = 'top'; ty = a[1] + 4; pts = [a, p];
        }
        return { type: 'group', children: [
          { type: 'polyline', shape: { points: pts }, style: { stroke: '#1a1a1a', lineWidth: 2.2, fill: null } },
          { type: 'text', x: tx, y: ty, style: { text: lab[0], align: align, verticalAlign: vAlign,
            font: '30px ' + FONT, fill: '#1a1a1a' } }
        ] };
      }
    },
    {
      name: '>0.6 <-0.6', type: 'scatter', xAxisIndex: 2, yAxisIndex: 2, z: 5, symbolSize: 34,
      itemStyle: { color: '#EE1515', borderColor: '#200000', borderWidth: 1.5 }, data: pcorrRed
    }
  ]
};

chart.setOption(option);
</script>
</body>
</html>
